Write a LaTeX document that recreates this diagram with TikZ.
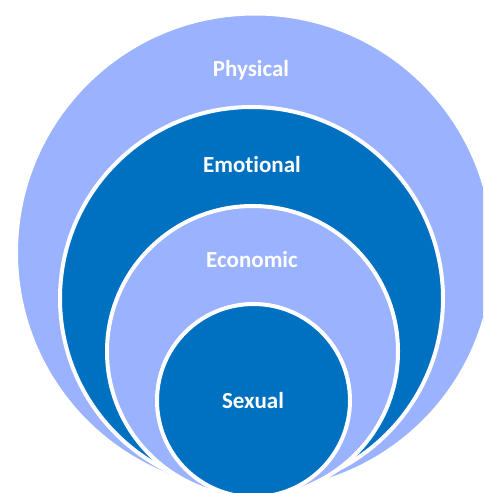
\documentclass[tikz,border=0pt]{standalone}
\usepackage{fontspec}
\setmainfont{Carlito}[Ligatures=NoCommon]
\definecolor{paleblue}{RGB}{155,178,255}
\definecolor{deepblue}{RGB}{0,112,192}
\begin{document}
\begin{tikzpicture}[x=1pt, y=1pt,
	ring/.style={circle, draw=white, line width=4pt, inner sep=0pt},
	tag/.style={text=white, font=\fontsize{23}{27}\selectfont\bfseries}]
		%frame
		\useasboundingbox (0,0) rectangle (483,-493);
		\clip (0,0) rectangle (483,-493);
		
		%rings, outermost first
		\node (physical) at (255, -252.5) [ring, fill=paleblue, minimum size=478pt]{};
		\node (emotional) at (251.5, -298.5) [ring, fill=deepblue, minimum size=383pt]{};
		\node (economic) at (252.5, -351.5) [ring, fill=paleblue, minimum size=291pt]{};
		\node (sexual) at (253.5, -400.5) [ring, fill=deepblue, minimum size=193pt]{};
		
		%labels
		\node (physicaltag) at (251, -70) [tag]{Physical};
		\node (emotionaltag) at (252, -165) [tag]{Emotional};
		\node (economictag) at (252, -260) [tag]{Economic};
		\node (sexualtag) at (253, -401) [tag]{Sexual};
\end{tikzpicture}
\end{document}
